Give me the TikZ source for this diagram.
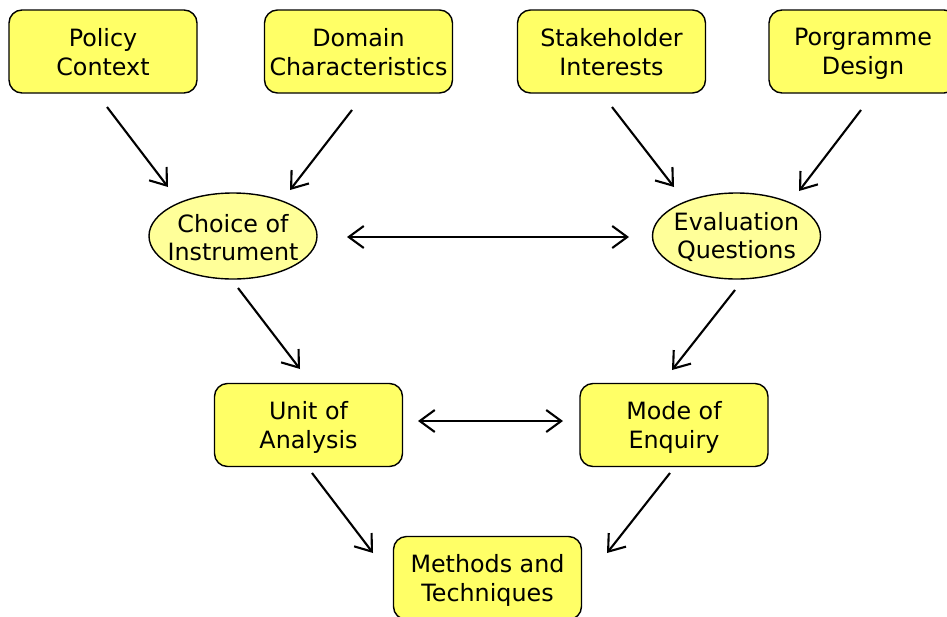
\documentclass[tikz,border=0pt]{standalone}
\usepackage{fontspec}
\setmainfont{DejaVu Sans}
\usetikzlibrary{shapes.geometric,arrows.meta,calc}
\definecolor{boxfill}{HTML}{FFFF66}
\definecolor{ellfill}{HTML}{FFFF99}
\tikzset{
  box/.style={draw=black, line width=1.4pt, fill=boxfill, rounded corners=13pt,
    minimum width=188pt, minimum height=83pt, inner sep=0pt, align=center,
    text depth=0pt, font=\fontsize{23.8}{29}\selectfont},
  ell/.style={draw=black, line width=1.4pt, fill=ellfill, ellipse,
    minimum width=168pt, minimum height=86pt, inner sep=0pt},
  elltxt/.style={inner sep=0pt, align=center, font=\fontsize{23.8}{28}\selectfont},
  arr/.style={line width=2.1pt, -{Straight Barb[length=15pt,width=22pt,line width=2.1pt]}},
  darr/.style={line width=2.1pt, {Straight Barb[length=15pt,width=22pt,line width=2.1pt]}-{Straight Barb[length=15pt,width=22pt,line width=2.1pt]}}
}
\begin{document}
\begin{tikzpicture}[x=1pt,y=-1pt]
\useasboundingbox (0,0) rectangle (947,616);
\clip (0,0) rectangle (947,616);
\fill[white] (0,0) rectangle (947,616);

\node[box] (pc) at (103,51.5) {Policy\\Context};
\node[box] (dc) at (358.5,51.5) {Domain\\Characteristics};
\node[box] (si) at (611.5,51.5) {Stakeholder\\Interests};
\node[box] (pd) at (863,51.5) {Porgramme\\Design};

\node[ell] (ci) at (233,236) {};
\node[elltxt] (cit) at ($(ci.center)+(0,2)$) {Choice of\\Instrument};
\node[ell] (eq) at (736.5,236) {};
\node[elltxt] (eqt) at ($(eq.center)+(0,1)$) {Evaluation\\Questions};

\node[box] (ua) at (308.5,425) {Unit of\\Analysis};
\node[box] (me) at (674,425) {Mode of\\Enquiry};
\node[box] (mt) at (487.5,578) {Methods and\\Techniques};

\draw[arr] ($(pc.center)+(4,55.5)$) -- ($(ci.center)+(-65,-49)$);
\draw[arr] ($(dc.center)+(-6.5,58.5)$) -- ($(ci.center)+(57,-46)$);
\draw[arr] ($(si.center)+(0.5,55.5)$) -- ($(eq.center)+(-62.5,-49)$);
\draw[arr] ($(pd.center)+(-2,58.5)$) -- ($(eq.center)+(62.5,-45)$);
\draw[darr] ($(ci.center)+(114,1)$) -- ($(eq.center)+(-107.5,1)$);
\draw[arr] ($(ci.center)+(5,52)$) -- ($(ua.center)+(-8.5,-56)$);
\draw[arr] ($(eq.center)+(-1.5,54)$) -- ($(me.center)+(-2,-55)$);
\draw[darr] ($(ua.center)+(109.5,-4)$) -- ($(me.center)+(-111,-4)$);
\draw[arr] ($(ua.center)+(3.5,48)$) -- ($(mt.center)+(-114.5,-25)$);
\draw[arr] ($(me.center)+(-4,48)$) -- ($(mt.center)+(119.5,-25)$);
\end{tikzpicture}
\end{document}
